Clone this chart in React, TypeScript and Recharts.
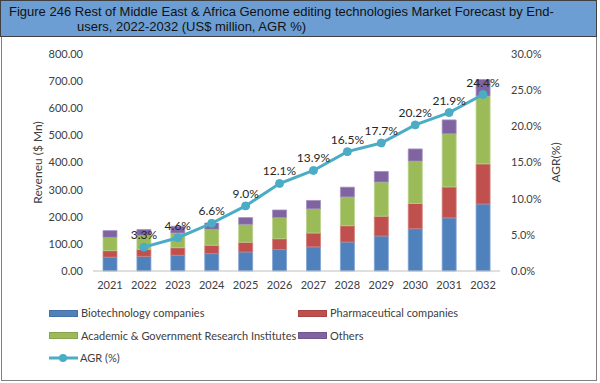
import { Bar, ComposedChart, LabelList, Line, XAxis, YAxis } from "recharts";

const years = ["2021", "2022", "2023", "2024", "2025", "2026", "2027", "2028", "2029", "2030", "2031", "2032"];
const biotech = [51, 54, 58, 64, 70, 79, 89, 107, 129, 156, 196, 247];
const pharma = [24, 26, 28, 31, 36, 40, 51, 60, 73, 93, 114, 148];
const academic = [49, 51, 54, 59, 66, 78, 89, 106, 126, 156, 196, 250];
const others = [25, 22, 25, 23, 25, 28, 31, 36, 39, 45, 51, 61];
const agr = [null, 3.3, 4.6, 6.6, 9.0, 12.1, 13.9, 16.5, 17.7, 20.2, 21.9, 24.4];

const leftTicks = [0, 100, 200, 300, 400, 500, 600, 700, 800];
const rightTicks = [0, 5, 10, 15, 20, 25, 30];

const BLUE = "#4f81bd";
const RED = "#c0504d";
const GREEN = "#9bbb59";
const PURPLE = "#8064a2";
const TEAL = "#4bacc6";
const TEXT = "#404040";
const FONT = "Lato, 'Open Sans', sans-serif";

const data = years.map((year, i) => ({
  year,
  biotech: biotech[i],
  pharma: pharma[i],
  academic: academic[i],
  others: others[i],
  agr: agr[i],
}));

const legendRows = [
  [
    { name: "Biotechnology companies", color: BLUE },
    { name: "Pharmaceutical companies", color: RED },
  ],
  [
    { name: "Academic & Government Research Institutes", color: GREEN },
    { name: "Others", color: PURPLE },
  ],
];

function Swatch({ color }: { color: string }) {
  return <span style={{ display: "inline-block", width: 27, height: 5, background: color, border: "1px solid rgba(0,0,0,0.12)", marginRight: 3, verticalAlign: "middle" }} />;
}

export default function App() {
  const tick = { fill: TEXT, fontSize: 11, fontFamily: FONT };
  return (
    <div style={{ position: "absolute", left: 0, top: 0, width: 600, height: 383, background: "#fff", fontFamily: FONT }}>
      {/* frame */}
      <div style={{ position: "absolute", left: 1, top: 35, width: 594, height: 344, border: "1px solid #808080" }} />
      {/* title */}
      <div
        style={{
          position: "absolute",
          left: 0,
          top: 0,
          width: 595,
          height: 35,
          background: "#6c9ed3",
          border: "1px solid #404040",
          fontFamily: "'Liberation Sans', Arial, sans-serif",
          fontSize: 13,
          lineHeight: "15px",
          color: "#111",
        }}
      >
        <div style={{ position: "absolute", left: 8, top: 3, whiteSpace: "nowrap" }}>
          Figure 246 Rest of Middle East &amp; Africa Genome editing technologies Market Forecast by End-
        </div>
        <div style={{ position: "absolute", left: 76, top: 18, whiteSpace: "nowrap" }}>users, 2022-2032 (US$ million, AGR %)</div>
      </div>

      <div style={{ position: "absolute", left: 0, top: 0 }}>
        <ComposedChart width={600} height={383} data={data} margin={{ top: 54, right: 40, left: 33, bottom: 92 }}>
          <XAxis
            dataKey="year"
            tick={tick}
            tickLine={false}
            axisLine={{ stroke: "#bfbfbf" }}
            tickMargin={4}
            height={20}
            interval={0}
          />
          <YAxis
            yAxisId="left"
            domain={[0, 800]}
            ticks={leftTicks}
            tickFormatter={(v: number) => v.toFixed(2)}
            tick={tick}
            tickLine={false}
            axisLine={false}
            tickMargin={4}
            width={60}
            label={{ value: "Reveneu ($ Mn)", angle: -90, position: "insideLeft", offset: 0, dx: 5, style: { fill: TEXT, fontSize: 12, fontFamily: FONT, textAnchor: "middle" } }}
          />
          <YAxis
            yAxisId="right"
            orientation="right"
            domain={[0, 30]}
            ticks={rightTicks}
            tickFormatter={(v: number) => v.toFixed(1) + "%"}
            tick={tick}
            tickLine={false}
            axisLine={false}
            tickMargin={5}
            width={60}
            label={{ value: "AGR(%)", angle: -90, position: "insideRight", offset: 0, dx: -4, style: { fill: TEXT, fontSize: 12, fontFamily: FONT, textAnchor: "middle" } }}
          />
          <Bar yAxisId="left" dataKey="biotech" stackId="a" fill={BLUE} stroke="#7fa3d4" strokeWidth={0.8} barSize={14} isAnimationActive={false} />
          <Bar yAxisId="left" dataKey="pharma" stackId="a" fill={RED} stroke="#d47d7b" strokeWidth={0.8} barSize={14} isAnimationActive={false} />
          <Bar yAxisId="left" dataKey="academic" stackId="a" fill={GREEN} stroke="#b9d189" strokeWidth={0.8} barSize={14} isAnimationActive={false} />
          <Bar yAxisId="left" dataKey="others" stackId="a" fill={PURPLE} stroke="#a592c0" strokeWidth={0.8} barSize={14} isAnimationActive={false} />
          <Line
            yAxisId="right"
            dataKey="agr"
            stroke={TEAL}
            strokeWidth={3}
            dot={{ r: 4, fill: TEAL, stroke: TEAL, strokeWidth: 1 }}
            connectNulls={false}
            isAnimationActive={false}
          >
            <LabelList
              dataKey="agr"
              position="top"
              offset={8}
              formatter={(v: number | null) => (v == null ? "" : v.toFixed(1) + "%")}
              style={{ fill: "#262626", fontSize: 12, fontFamily: FONT }}
            />
          </Line>
        </ComposedChart>
      </div>

      {/* legend */}
      <div style={{ position: "absolute", left: 49, top: 302, fontSize: 11, color: TEXT, lineHeight: "22px" }}>
        {legendRows.map((row, r) => (
          <div key={r} style={{ display: "flex", height: 22.5, alignItems: "center" }}>
            {row.map((item, j) => (
              <div key={item.name} style={{ width: j === 0 ? 249 : undefined, display: "flex", alignItems: "center", whiteSpace: "nowrap" }}>
                <Swatch color={item.color} />
                {item.name}
              </div>
            ))}
          </div>
        ))}
        <div style={{ display: "flex", height: 22.5, alignItems: "center" }}>
          <svg width={29} height={10} style={{ marginRight: 2 }}>
            <line x1={0} y1={5} x2={29} y2={5} stroke={TEAL} strokeWidth={3} />
            <circle cx={14} cy={5} r={4} fill={TEAL} />
          </svg>
          AGR (%)
        </div>
      </div>
    </div>
  );
}
